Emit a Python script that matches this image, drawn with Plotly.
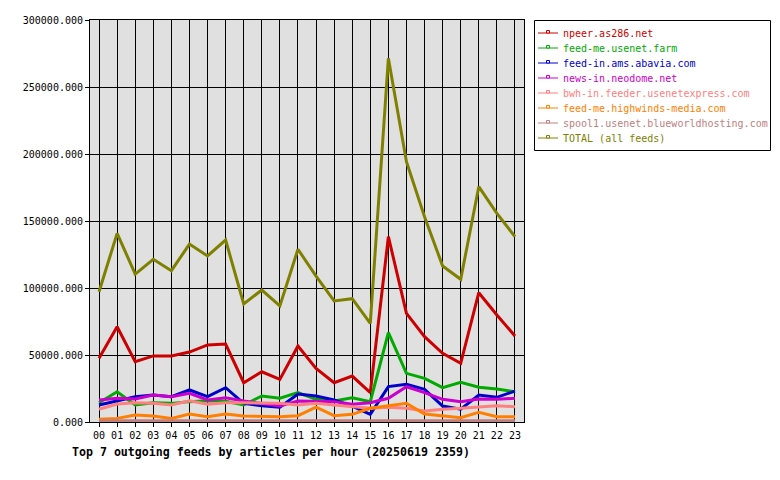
import plotly.graph_objects as go

hours = ["00", "01", "02", "03", "04", "05", "06", "07", "08", "09", "10", "11",
         "12", "13", "14", "15", "16", "17", "18", "19", "20", "21", "22", "23"]

npeer = [47500, 71100, 45000, 49300, 49300, 52200, 57500, 58200, 29300, 37500, 31800, 56700,
         40000, 29300, 34300, 21900, 138300, 81100, 63700, 51200, 43800, 96500, 79900, 64200]
usenet_farm = [14400, 22600, 12700, 14400, 13900, 15200, 15900, 15400, 12700, 19400, 17700, 21900,
               16900, 15700, 18100, 15200, 66700, 36300, 32600, 25600, 29600, 25900, 24600, 22600]
abavia = [12700, 15900, 18900, 20100, 18900, 23900, 18900, 25600, 13900, 12200, 11000, 20900,
          19400, 16400, 11900, 5700, 26400, 28100, 24400, 11900, 9500, 20100, 18400, 23100]
neodome = [16400, 17700, 17200, 20100, 18900, 21400, 16400, 18100, 15700, 13900, 11900, 15700,
           15200, 15200, 13200, 14400, 17700, 26300, 21900, 16900, 15200, 17200, 16900, 17700]
usenetexpress = [9500, 13400, 14400, 13900, 12700, 15900, 13200, 14400, 14400, 13900, 13900, 12700,
                 13900, 12700, 11400, 10200, 11000, 10200, 8200, 9500, 10200, 11000, 12200, 11400]
highwinds = [2000, 2700, 5200, 4500, 2700, 6000, 4000, 6000, 4500, 4000, 4000, 4700,
             11000, 4700, 5700, 10200, 11900, 13900, 6000, 4500, 3200, 7200, 4000, 4000]
blueworld = [1000, 1000, 1000, 1000, 1000, 1000, 1000, 1000, 1000, 1000, 1000, 1000,
             1000, 1000, 1000, 1000, 1000, 1000, 1000, 1000, 1000, 1000, 1000, 1000]
total = [97200, 140800, 110400, 121400, 112900, 132800, 123900, 135800, 88100, 98500, 86600, 128900,
         108800, 90300, 92000, 73600, 271400, 194300, 153200, 116400, 106500, 175600, 155700, 138300]

names = ["npeer.as286.net", "feed-me.usenet.farm", "feed-in.ams.abavia.com", "news-in.neodome.net",
         "bwh-in.feeder.usenetexpress.com", "feed-me.highwinds-media.com",
         "spool1.usenet.blueworldhosting.com", "TOTAL (all feeds)"]
series = [npeer, usenet_farm, abavia, neodome, usenetexpress, highwinds, blueworld, total]
colors = ["#cc0000", "#00aa00", "#0000cc", "#cc00cc", "#ff8080", "#ff8000", "#c08080", "#808000"]

title = "Top 7 outgoing feeds by articles per hour (20250619 2359)"

MONO = "DejaVu Sans Mono"
W, H = 780, 480
L, R, T, B = 90, 524, 20, 422

fig = go.Figure()
for name, vals, col in zip(names, series, colors):
    fig.add_trace(go.Scatter(x=hours, y=vals, mode="lines", name=name,
                             line=dict(color=col, width=3), showlegend=False))

# manual legend (box, swatches, labels)
def px2x(px):
    return (px - L) / (R - L)

def py2y(py):
    return (B - py) / (B - T)

shapes = [dict(type="rect", xref="paper", yref="paper",
               x0=px2x(534.5), x1=px2x(770.5), y0=py2y(150.5), y1=py2y(20.5),
               line=dict(color="black", width=1), fillcolor="white", layer="above")]
annotations = []
for i, (name, col) in enumerate(zip(names, colors)):
    cy = 33 + 15 * i
    shapes.append(dict(type="line", xref="paper", yref="paper",
                       x0=px2x(538), x1=px2x(558), y0=py2y(cy), y1=py2y(cy),
                       line=dict(color=col, width=1)))
    shapes.append(dict(type="rect", xref="paper", yref="paper",
                       x0=px2x(546.5), x1=px2x(549.5), y0=py2y(cy), y1=py2y(cy - 2.5),
                       line=dict(color=col, width=1), fillcolor="white"))
    annotations.append(dict(text=name, xref="paper", yref="paper",
                            x=px2x(561), y=py2y(cy), xanchor="left", yanchor="middle",
                            showarrow=False, font=dict(family=MONO, size=10, color=col)))

fig.update_layout(
    width=W, height=H,
    margin=dict(l=L, r=W - R, t=T, b=H - B, pad=0),
    paper_bgcolor="white", plot_bgcolor="#e0e0e0",
    showlegend=False,
    title=dict(text="<b>" + title + "</b>", x=72 / W, xanchor="left", xref="container",
               y=1 - 452 / H, yanchor="middle", yref="container",
               font=dict(family=MONO, size=11.6, color="black")),
    shapes=shapes, annotations=annotations,
    font=dict(family=MONO, size=10, color="black"),
)
fig.update_xaxes(type="category", range=[-0.5, 23.5], showgrid=True, gridcolor="black", gridwidth=1,
                 showline=True, linecolor="black", linewidth=1, mirror=True,
                 ticks="outside", ticklen=4, tickcolor="black", tickwidth=1,
                 tickfont=dict(family=MONO, size=10, color="black"), zeroline=False, fixedrange=True)
fig.update_yaxes(range=[0, 300000], dtick=50000, tickformat=".3f", showgrid=True, gridcolor="black",
                 gridwidth=1, showline=True, linecolor="black", linewidth=1, mirror=True,
                 ticks="outside", ticklen=4, tickcolor="black", tickwidth=1,
                 tickfont=dict(family=MONO, size=10, color="black"), zeroline=False, fixedrange=True)

fig.write_html("out.html")
